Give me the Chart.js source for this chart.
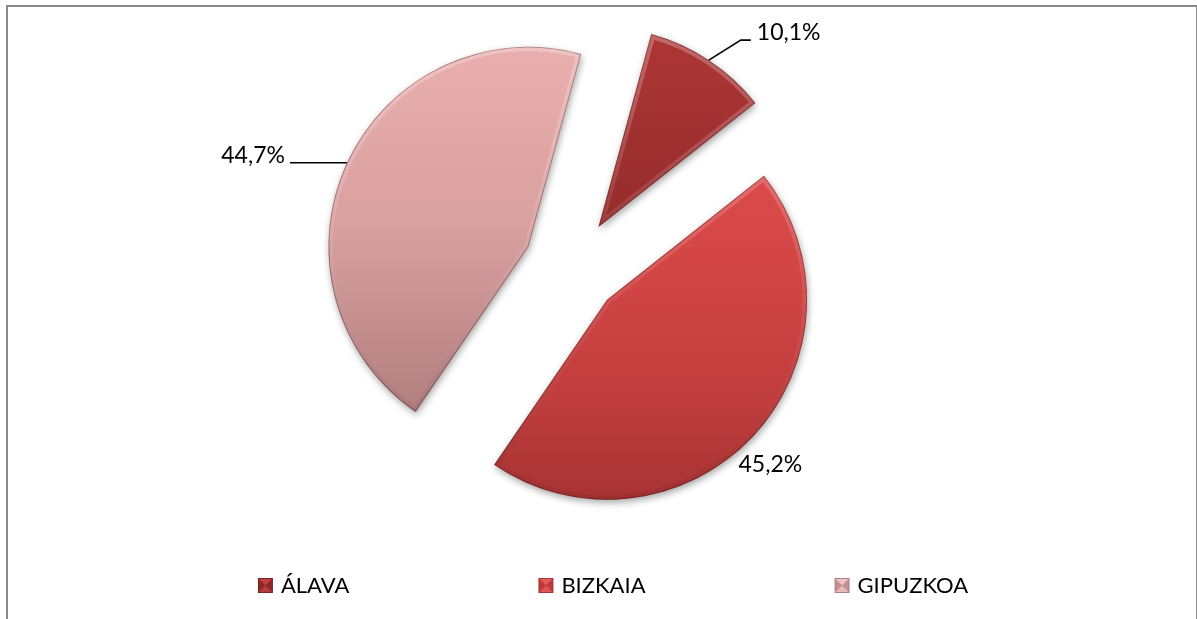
<!DOCTYPE html>
<html><head><meta charset="utf-8">
<script src="https://cdn.jsdelivr.net/npm/chart.js@4.4.1/dist/chart.umd.min.js"></script>
<style>
html,body{margin:0;padding:0;background:#fff;overflow:hidden;}
#wrap{position:relative;width:1197px;height:619px;overflow:hidden;}
#frame{position:absolute;left:6px;top:5px;width:1192px;height:700px;box-sizing:border-box;border:2px solid #8a8a8a;pointer-events:none;}
canvas{position:absolute;left:0;top:0;}
</style></head><body>
<div id="wrap"><canvas id="c" width="1197" height="619"></canvas><div id="frame"></div></div>
<script>
// ---- data ----
const categories = ['ÁLAVA', 'BIZKAIA', 'GIPUZKOA'];
const shares = [10.1, 45.2, 44.7];
const valueLabels = ['10,1%', '45,2%', '44,7%'];

// ---- styles ----
const baseColors = ['#9c3030', '#cc4343', '#d59c9c'];
const gradStops = [
  [[0, '#ae3636'], [0.5, '#952c2c'], [1, '#7c2424']],
  [[0, '#e04e4e'], [0.35, '#d64747'], [0.7, '#c43f3f'], [1, '#a83333']],
  [[0, '#eaaeae'], [0.45, '#d9a0a0'], [1, '#ab7878']]
];
const markerColors = [['#c24040', '#a23030', '#7a2222'], ['#ea5a5a', '#d24444', '#a83434'], ['#f0c4c4', '#d8a0a0', '#b08080']];
const explodePx = 48;
const pieRadius = 200;
// label placement relative to the slice's outer edge point (style only)
const labelLayout = [
  {leader: [[32, -20], [42, -20]], align: 'left', dx: 48, dy: -20},
  {leader: null, align: 'center', dx: 17, dy: 36},
  {leader: [[-57, 0]], align: 'right', dx: -62, dy: 0}
];

function makeMarker(cols) {
  const cv = document.createElement('canvas');
  cv.width = 20; cv.height = 16;
  const g = cv.getContext('2d');
  const x0 = 4, y0 = 0, s = 15;
  g.fillStyle = cols[1]; g.fillRect(x0, y0, s, s);
  const cx = x0 + s / 2, cy = y0 + s / 2;
  g.fillStyle = cols[0];
  g.beginPath(); g.moveTo(x0, y0); g.lineTo(x0 + s, y0); g.lineTo(cx, cy); g.closePath(); g.fill();
  g.globalAlpha = 0.7;
  g.beginPath(); g.moveTo(x0, y0 + s); g.lineTo(x0 + s, y0 + s); g.lineTo(cx, cy); g.closePath(); g.fill();
  g.globalAlpha = 1;
  g.fillStyle = cols[2]; g.globalAlpha = 0.55;
  g.beginPath(); g.moveTo(x0, y0); g.lineTo(cx, cy); g.lineTo(x0, y0 + s); g.closePath(); g.fill();
  g.beginPath(); g.moveTo(x0 + s, y0); g.lineTo(cx, cy); g.lineTo(x0 + s, y0 + s); g.closePath(); g.fill();
  g.globalAlpha = 1;
  g.strokeStyle = cols[2]; g.lineWidth = 1; g.strokeRect(x0 + 0.5, y0 + 0.5, s - 1, s - 1);
  return cv;
}
const markers = markerColors.map(makeMarker);

function sliceGradient(context) {
  const chart = context.chart;
  const area = chart.chartArea;
  const i = context.dataIndex;
  if (!area || i === undefined) return baseColors[i || 0];
  const cy = (area.top + area.bottom) / 2;
  const g = chart.ctx.createLinearGradient(0, cy - pieRadius, 0, cy + pieRadius);
  gradStops[i].forEach(([o, c]) => g.addColorStop(o, c));
  return g;
}

const explodedPie = {
  id: 'explodedPie',
  beforeDatasetDraw(chart, args) {
    const ctx = chart.ctx;
    args.meta.data.forEach((arc) => {
      const p = arc.getProps(['x', 'y', 'startAngle', 'endAngle', 'outerRadius'], true);
      const mid = (p.startAngle + p.endAngle) / 2;
      const tx = Math.cos(mid) * explodePx, ty = Math.sin(mid) * explodePx;
      ctx.save();
      ctx.translate(tx, ty);
      ctx.shadowColor = 'rgba(0,0,0,0.35)';
      ctx.shadowBlur = 7; ctx.shadowOffsetX = 1; ctx.shadowOffsetY = 3;
      arc.draw(ctx);
      ctx.restore();
      // bevel highlight
      ctx.save();
      ctx.translate(tx, ty);
      ctx.beginPath();
      ctx.moveTo(p.x, p.y);
      ctx.arc(p.x, p.y, p.outerRadius, p.startAngle, p.endAngle);
      ctx.closePath();
      ctx.clip();
      const g = ctx.createLinearGradient(0, p.y - p.outerRadius, 0, p.y + p.outerRadius);
      g.addColorStop(0, 'rgba(255,255,255,0.26)');
      g.addColorStop(0.5, 'rgba(255,255,255,0.08)');
      g.addColorStop(1, 'rgba(0,0,0,0.08)');
      ctx.lineJoin = 'round';
      ctx.lineWidth = 9; ctx.strokeStyle = g; ctx.stroke();
      ctx.lineWidth = 2; ctx.strokeStyle = 'rgba(60,10,10,0.35)'; ctx.stroke();
      ctx.restore();
    });
    return false;
  },
  afterDatasetsDraw(chart) {
    const ctx = chart.ctx;
    const meta = chart.getDatasetMeta(0);
    meta.data.forEach((arc, i) => {
      const p = arc.getProps(['x', 'y', 'startAngle', 'endAngle', 'outerRadius'], true);
      const mid = (p.startAngle + p.endAngle) / 2;
      const r = explodePx + p.outerRadius;
      const ex = p.x + Math.cos(mid) * r, ey = p.y + Math.sin(mid) * r;
      const L = labelLayout[i];
      ctx.save();
      if (L.leader) {
        ctx.beginPath();
        ctx.moveTo(ex, ey);
        L.leader.forEach(([dx, dy]) => ctx.lineTo(ex + dx, ey + dy));
        ctx.strokeStyle = '#000'; ctx.lineWidth = 1.6; ctx.stroke();
      }
      ctx.font = '23px Lato';
      ctx.fillStyle = '#000';
      ctx.textAlign = L.align;
      ctx.textBaseline = 'alphabetic';
      ctx.fillText(valueLabels[i], ex + L.dx, ey + L.dy);
      ctx.restore();
    });
  }
};

function build() {
  new Chart(document.getElementById('c'), {
    type: 'pie',
    data: {
      labels: categories,
      datasets: [{
        data: shares,
        backgroundColor: sliceGradient,
        borderWidth: 0,
        offset: 0,
        hoverOffset: 0,
        radius: pieRadius,
        rotation: 15.3,
        clip: false
      }]
    },
    options: {
      responsive: false,
      maintainAspectRatio: false,
      devicePixelRatio: 1,
      animation: false,
      events: [],
      layout: {padding: {left: 29, right: 0, top: 148, bottom: 12}},
      plugins: {
        tooltip: {enabled: false},
        title: {display: true, position: 'right', text: '', fullSize: false,
                font: {size: 12, lineHeight: 1}, padding: {top: 70, bottom: 0}},
        legend: {
          position: 'bottom',
          fullSize: true,
          labels: {
            usePointStyle: true,
            boxWidth: 12,
            padding: 189,
            color: '#000',
            font: {family: 'Lato', size: 22},
            generateLabels: () => categories.map((t, i) => ({
              text: t, fillStyle: baseColors[i], strokeStyle: 'rgba(0,0,0,0)', lineWidth: 0,
              pointStyle: markers[i], hidden: false, index: i, fontColor: '#000'
            }))
          }
        }
      }
    },
    plugins: [explodedPie]
  });
}
const fl = document.fonts ? Promise.all([document.fonts.load('23px Lato'), document.fonts.load('22px Lato')]).catch(() => {}) : Promise.resolve();
Promise.race([fl, new Promise(r => setTimeout(r, 1500))]).then(build);
</script>
</body></html>
